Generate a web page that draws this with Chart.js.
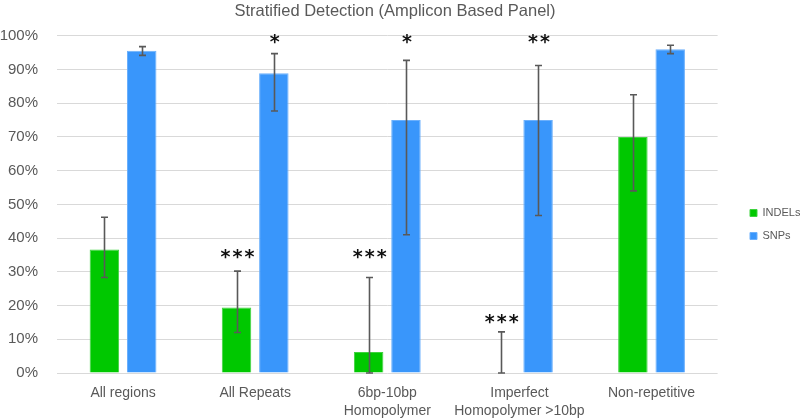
<!DOCTYPE html>
<html>
<head>
<meta charset="utf-8">
<script src="https://cdn.jsdelivr.net/npm/chart.js@4/dist/chart.umd.min.js"></script>
<style>
html,body{margin:0;padding:0;background:#fff;}
#wrap{width:800px;height:419px;position:relative;}
</style>
</head>
<body>
<div id="wrap"><canvas id="c" width="800" height="419"></canvas></div>
<script>
// ---- data ----
const categories = [["All regions"], ["All Repeats"], ["6bp-10bp", "Homopolymer"], ["Imperfect", "Homopolymer >10bp"], ["Non-repetitive"]];
const seriesNames = ["INDELs", "SNPs"];
const indelValues = [36.6, 19.4, 6.2, 0, 70.0];
const snpValues = [95.6, 88.9, 75.0, 75.0, 96.0];
const indelErrLow = [28.3, 12.0, 0, 0, 54.0];
const indelErrHigh = [46.2, 30.2, 28.3, 12.2, 82.5];
const snpErrLow = [94.2, 77.7, 41.0, 46.7, 94.7];
const snpErrHigh = [96.8, 94.7, 92.7, 91.2, 97.2];
const indelStars = ["", "***", "***", "***", ""];
const snpStars = ["", "*", "*", "**", ""];
const indelStarAt = [null, 35.0, 35.0, 15.7, null];
const snpStarAt = [null, 98.8, 98.8, 98.8, null];
const yTicks = [0, 10, 20, 30, 40, 50, 60, 70, 80, 90, 100];

const errLow = [indelErrLow, snpErrLow];
const errHigh = [indelErrHigh, snpErrHigh];
const stars = [indelStars, snpStars];
const starAt = [indelStarAt, snpStarAt];

const FONT = '"Liberation Sans", Arial, sans-serif';
const GREY = '#595959';

const errorBars = {
  id: 'errorBars',
  afterDatasetsDraw(chart) {
    const ctx = chart.ctx;
    const ys = chart.scales.y;
    ctx.save();
    ctx.strokeStyle = GREY;
    ctx.lineWidth = 1.6;
    chart.data.datasets.forEach((ds, di) => {
      const meta = chart.getDatasetMeta(di);
      meta.data.forEach((el, j) => {
        const x = Math.round(el.x) + 0.5;
        const yH = ys.getPixelForValue(errHigh[di][j]);
        const yL = ys.getPixelForValue(errLow[di][j]);
        ctx.beginPath();
        ctx.moveTo(x, yH); ctx.lineTo(x, yL);
        ctx.moveTo(x - 3.5, yH); ctx.lineTo(x + 3.5, yH);
        ctx.moveTo(x - 3.5, yL); ctx.lineTo(x + 3.5, yL);
        ctx.stroke();
      });
    });
    // significance stars
    ctx.fillStyle = '#111';
    ctx.font = 'bold 19px "DejaVu Sans", sans-serif';
    ctx.textAlign = 'center';
    ctx.textBaseline = 'alphabetic';
    chart.data.datasets.forEach((ds, di) => {
      const meta = chart.getDatasetMeta(di);
      meta.data.forEach((el, j) => {
        const s = stars[di][j];
        if (!s) return;
        const y = ys.getPixelForValue(starAt[di][j]);
        const n = s.length;
        for (let k = 0; k < n; k++) {
          ctx.fillText(s[k], el.x + 1 + (k - (n - 1) / 2) * 12, y + 8);
        }
      });
    });
    ctx.restore();
  }
};

const legendShift = {
  id: 'legendShift',
  afterLayout(chart) {
    const lg = chart.legend;
    if (lg) {
      const w = lg.right - lg.left;
      lg.left = 750 - 12; lg.right = lg.left + w;
      lg.top += 15; lg.bottom += 15;
    }
  }
};

new Chart(document.getElementById('c'), {
  type: 'bar',
  data: {
    labels: categories,
    datasets: [
      { label: seriesNames[0], data: indelValues, backgroundColor: '#00c800', borderColor: '#3fd23f', borderWidth: 1 },
      { label: seriesNames[1], data: snpValues, backgroundColor: '#3996fb', borderColor: '#6cb0fc', borderWidth: 1 }
    ]
  },
  options: {
    responsive: false,
    animation: false,
    devicePixelRatio: 1,
    categoryPercentage: 0.565,
    barPercentage: 0.79,
    layout: { padding: { left: 0, right: 10, top: 0, bottom: 0 } },
    plugins: {
      title: {
        display: true,
        text: 'Stratified Detection (Amplicon Based Panel)',
        color: GREY,
        font: { family: FONT, size: 16.5, weight: 'normal', lineHeight: 1.2 },
        padding: { top: 2, bottom: 14 }
      },
      legend: {
        position: 'right',
        align: 'center',
        labels: {
          color: GREY,
          font: { family: FONT, size: 11 },
          boxWidth: 7,
          boxHeight: 7,
          padding: 12,
          useBorderRadius: false
        }
      },
      tooltip: { enabled: false }
    },
    scales: {
      x: {
        afterFit(scale) { scale.height = 46; },
        grid: { display: false },
        border: { display: false },
        ticks: {
          color: GREY,
          font: { family: FONT, size: 14, lineHeight: 1.3 },
          padding: 3,
          maxRotation: 0,
          autoSkip: false
        }
      },
      y: {
        min: 0,
        max: 100,
        afterBuildTicks(scale) { scale.ticks = yTicks.map(v => ({ value: v })); },
        afterFit(scale) { scale.width = 57; },
        grid: { color: '#d9d9d9', lineWidth: 1, drawTicks: false },
        border: { display: false },
        ticks: {
          color: GREY,
          font: { family: FONT, size: 15 },
          padding: 19,
          callback: v => v + '%'
        }
      }
    }
  },
  plugins: [errorBars, legendShift]
});
</script>
</body>
</html>
